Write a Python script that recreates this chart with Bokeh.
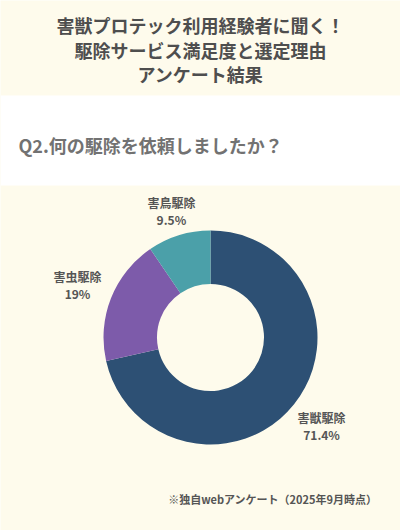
import numpy as np
from bokeh.core.properties import value
from bokeh.embed import file_html
from bokeh.models import ColumnDataSource, Range1d
from bokeh.plotting import figure
from bokeh.resources import INLINE

# survey data
categories = ["害獣駆除", "害虫駆除", "害鳥駆除"]
shares = [71.4, 19.0, 9.5]
share_labels = ["71.4%", "19%", "9.5%"]
colors = ["#2D5074", "#7D5BAA", "#4BA0A9"]

title_lines = ["害獣プロテック利用経験者に聞く！", "駆除サービス満足度と選定理由", "アンケート結果"]
question = "Q2.何の駆除を依頼しましたか？"
footnote = "※独自webアンケート（2025年9月時点）"

W, H = 400, 530
CREAM = "#FEFBEC"
FONT = value("Noto Sans CJK JP")


def fy(y):
    # reference pixel y (top down) -> figure y (bottom up)
    return H - y


p = figure(width=W, height=H, output_backend="svg", toolbar_location=None,
           x_range=Range1d(0, W), y_range=Range1d(0, H), min_border=0)
p.axis.visible = False
p.grid.visible = False
p.outline_line_color = None
p.background_fill_color = CREAM
p.border_fill_color = CREAM

# white band behind the question
p.quad(left=0, right=W, bottom=fy(185), top=fy(95), fill_color="white", line_color=None)

# title
for i, line in enumerate(title_lines):
    p.text(x=[W / 2], y=[fy(24.5 + 24.5 * i)], text=[line], text_align="center",
           text_baseline="middle", text_font=FONT, text_font_size="18px",
           text_font_style="bold", text_color="#4E4E4E")

p.text(x=[18], y=[fy(144.5)], text=[question], text_align="left",
       text_baseline="middle", text_font=FONT, text_font_size="18px",
       text_font_style="bold", text_color="#727272")

# donut
cx, cy, r_out, r_in = 210, fy(337), 107, 53.5
frac = np.array(shares) / sum(shares)
cum = np.concatenate([[0], np.cumsum(frac)])
start = np.pi / 2 - 2 * np.pi * cum[:-1]
end = np.pi / 2 - 2 * np.pi * cum[1:]
src = ColumnDataSource(dict(start=start, end=end, color=colors))
p.annular_wedge(x=cx, y=cy, inner_radius=r_in, outer_radius=r_out,
                start_angle="start", end_angle="end", direction="clock",
                fill_color="color", line_color=None, source=src)

# labels outside each slice, along the mid angle
mid = np.pi / 2 - 2 * np.pi * (cum[:-1] + cum[1:]) / 2
hw, hh = 26, 17
lx, ly = [], []
for a in mid:
    dx, dy = np.cos(a), np.sin(a)
    ext = min(hw / max(abs(dx), 1e-6), hh / max(abs(dy), 1e-6))
    r = r_out + 8 + ext
    lx.append(cx + r * dx)
    ly.append(cy + r * dy)
lab = ColumnDataSource(dict(x=lx, y1=[y + 8.5 for y in ly], y2=[y - 8.5 for y in ly],
                            name=categories, pct=share_labels))
for col in ["y1", "y2"]:
    p.text(x="x", y=col, text="name" if col == "y1" else "pct", source=lab,
           text_align="center", text_baseline="middle", text_font=FONT,
           text_font_size="12px", text_font_style="bold", text_color="#555555")

p.text(x=[377], y=[fy(498)], text=[footnote], text_align="right",
       text_baseline="middle", text_font=FONT, text_font_size="11px",
       text_font_style="bold", text_color="#555555")

open("out.html", "w").write(file_html(p, INLINE))
